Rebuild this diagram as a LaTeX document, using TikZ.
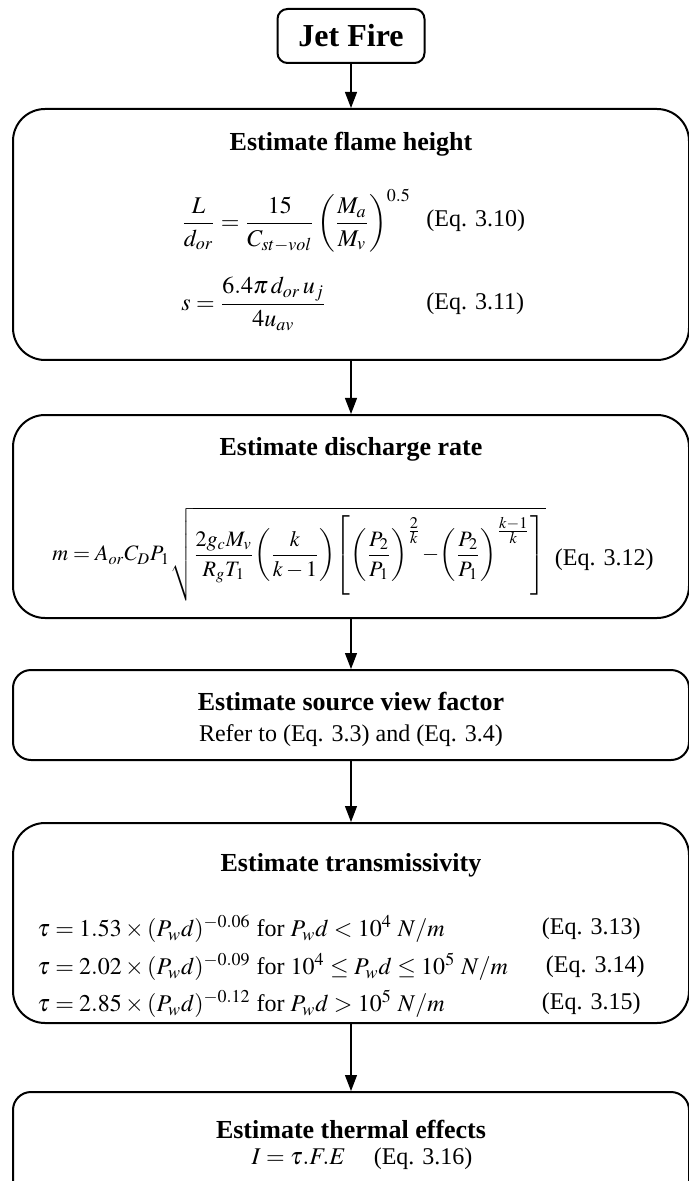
\documentclass[tikz,border=0pt]{standalone}
\usepackage{amsmath}
\usepackage{mathptmx}
\usepackage{fontspec}
\setmainfont{Liberation Serif}
\usetikzlibrary{arrows.meta}

\begin{document}
\begin{tikzpicture}[
    x=0.5pt, y=0.5pt,
    every node/.style={font=\fontsize{12}{14}\selectfont},
    box/.style={draw=black, line width=1pt, rounded corners=16pt, minimum width=338pt, inner sep=0pt},
    smallbox/.style={box, rounded corners=9pt},
    ttl/.style={font=\fontsize{13}{15}\selectfont\bfseries},
    eqn/.style={anchor=west, inner sep=0pt},
    ref/.style={anchor=east, inner sep=0pt},
    arr/.style={-{Triangle[length=8pt, width=6pt]}, line width=0.6pt}
]
    \useasboundingbox (0,0) rectangle (689,-1181);

    % Boxes
    \node[draw=black, line width=1pt, rounded corners=5pt, minimum width=73.5pt, minimum height=27pt,
          font=\fontsize{16}{18}\selectfont\bfseries] (jet) at (351,-36) {Jet Fire};
    \node[box, minimum height=125.5pt, below of=jet, node distance=99.25pt] (flame) {};
    \node[box, minimum height=101.5pt, below of=flame, node distance=141pt] (rate) {};
    \node[smallbox, minimum height=45pt, below of=rate, node distance=99.25pt] (view) {};
    \node[box, minimum height=100pt, below of=view, node distance=104pt] (trans) {};
    \node[smallbox, minimum height=55pt, below of=trans, node distance=112pt] (effect) {};

    % Flame height
    \node[ttl] (flameT) at ([yshift=-18pt]flame.north) {Estimate flame height};
    \node[eqn] (flameA) at ([xshift=84.5pt, yshift=-56.5pt]flame.north west)
        {$\dfrac{L}{d_{or}}=\dfrac{15}{C_{st-vol}}\left(\dfrac{M_a}{M_v}\right)^{0.5}$};
    \node[eqn] (flameAref) at ([xshift=207pt, yshift=-56.5pt]flame.north west) {(Eq. 3.10)};
    \node[eqn] (flameB) at ([xshift=84.5pt, yshift=-98pt]flame.north west)
        {$s=\dfrac{6.4\pi\,d_{or}\,u_j}{4u_{av}}$};
    \node[eqn] (flameBref) at ([xshift=207pt, yshift=-98pt]flame.north west) {(Eq. 3.11)};

    % Discharge rate
    \node[ttl] (rateT) at ([yshift=-17.5pt]rate.north) {Estimate discharge rate};
    \node[eqn, font=\fontsize{11}{13}\selectfont] (rateA) at ([xshift=20pt, yshift=-70pt]rate.north west)
        {$m=A_{or}C_DP_1\sqrt{\dfrac{2g_cM_v}{R_gT_1}\!\left(\dfrac{k}{k-1}\right)\!\left[\left(\dfrac{P_2}{P_1}\right)^{\frac{\scriptstyle 2}{\scriptstyle k}}\!-\!\left(\dfrac{P_2}{P_1}\right)^{\frac{\scriptstyle k-1}{\scriptstyle k}}\right]}$};
    \node[ref] (rateAref) at ([xshift=321pt, yshift=-73pt]rate.north west) {(Eq. 3.12)};

    % View factor
    \node[ttl] (viewT) at ([yshift=-16pt]view.north) {Estimate source view factor};
    \node (viewA) at ([yshift=-33.5pt]view.north) {Refer to (Eq. 3.3) and (Eq. 3.4)};

    % Transmissivity
    \node[ttl] (transT) at ([yshift=-21.5pt]trans.north) {Estimate transmissivity};
    \node[eqn] (transA) at ([xshift=12.5pt, yshift=-53.5pt]trans.north west)
        {$\tau=1.53\times(P_wd)^{-0.06}$ for $P_wd<10^4\ N/m$};
    \node[ref] (transAref) at ([xshift=314.5pt, yshift=-53.5pt]trans.north west) {(Eq. 3.13)};
    \node[eqn] (transB) at ([xshift=12.5pt, yshift=-72.5pt]trans.north west)
        {$\tau=2.02\times(P_wd)^{-0.09}$ for $10^4\le P_wd\le10^5\ N/m$};
    \node[ref] (transBref) at ([xshift=316.5pt, yshift=-72.5pt]trans.north west) {(Eq. 3.14)};
    \node[eqn] (transC) at ([xshift=12.5pt, yshift=-91pt]trans.north west)
        {$\tau=2.85\times(P_wd)^{-0.12}$ for $P_wd>10^5\ N/m$};
    \node[ref] (transCref) at ([xshift=314.5pt, yshift=-91pt]trans.north west) {(Eq. 3.15)};

    % Thermal effects
    \node[ttl] (effectT) at ([yshift=-19pt]effect.north) {Estimate thermal effects};
    \node (effectA) at ([xshift=5.5pt, yshift=-34pt]effect.north) {$I=\tau.F.E$\hspace{14pt}(Eq. 3.16)};

    % Flow
    \draw[arr] (jet) -- (flame);
    \draw[arr] (flame) -- (rate);
    \draw[arr] (rate) -- (view);
    \draw[arr] (view) -- (trans);
    \draw[arr] (trans) -- (effect);
\end{tikzpicture}
\end{document}
